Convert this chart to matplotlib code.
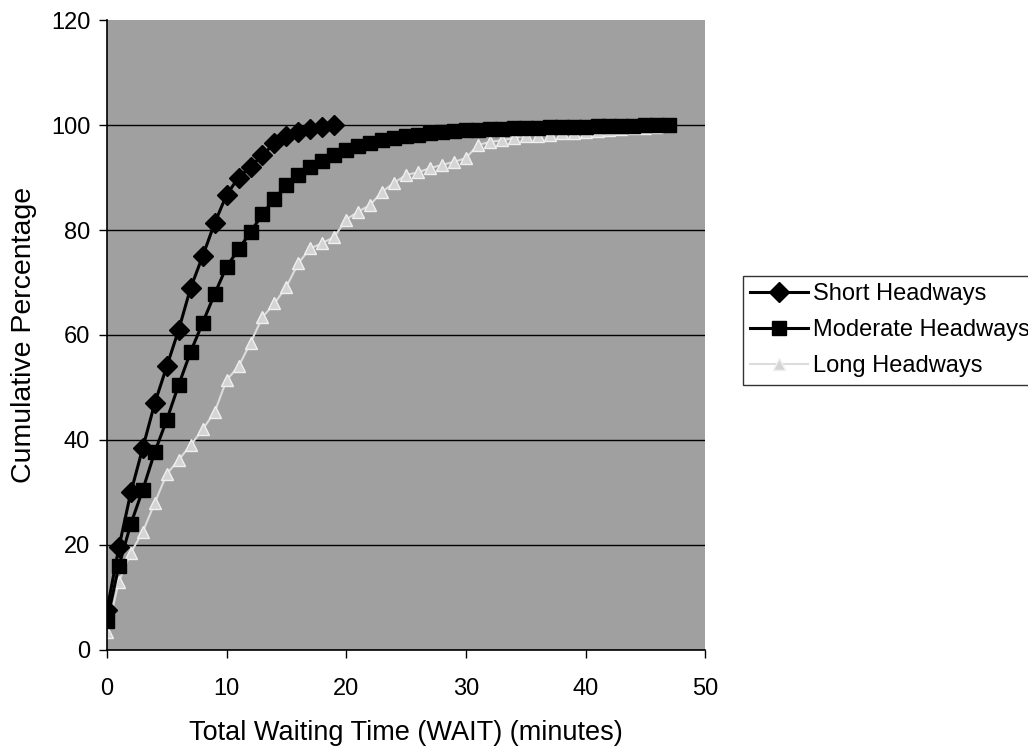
import matplotlib.pyplot as plt
import numpy as np

plt.rcParams['font.family'] = ['Liberation Sans', 'DejaVu Sans']

# Cumulative percentage by waiting time (minutes)
short_x = np.arange(0, 20)
short_y = [7.5, 19.5, 30, 38.5, 47, 54, 61, 69, 75, 81.3, 86.7, 90, 92, 94.3, 96.5,
           98, 98.7, 99.3, 99.6, 100]

moderate_x = np.arange(0, 48)
moderate_y = [5.5, 16, 24, 30.5, 37.7, 43.8, 50.5, 56.8, 62.3, 67.8, 73, 76.3, 79.6, 83,
              86, 88.5, 90.5, 92, 93.2, 94.3, 95.2, 96, 96.6, 97.1, 97.5, 97.9, 98.2,
              98.4, 98.6, 98.8, 99, 99.1, 99.2, 99.3, 99.4, 99.5, 99.5, 99.6, 99.6,
              99.7, 99.7, 99.8, 99.8, 99.9, 99.9, 100, 100, 100]

long_x = np.arange(0, 48)
long_y = [3.3, 13, 18.5, 22.5, 28, 33.5, 36.2, 39, 42, 45.3, 51.4, 54, 58.5, 63.4, 66,
          69.2, 73.7, 76.5, 77.5, 78.7, 82, 83.5, 84.8, 87.3, 89, 90.5, 91, 91.8, 92.4,
          93, 93.7, 96.2, 96.8, 97.1, 97.5, 98, 98, 98.2, 98.4, 98.5, 98.6, 98.8, 99,
          99.2, 99.4, 99.5, 99.7, 100]

fig = plt.figure(figsize=(10.28, 7.46), dpi=100)
ax = fig.add_axes([0.104, 0.129, 0.582, 0.844])
ax.set_facecolor('#a0a0a0')

ax.plot(short_x, short_y, color='black', lw=2.2, marker='D', ms=10,
        label='Short Headways', zorder=4)
ax.plot(moderate_x, moderate_y, color='black', lw=2.2, marker='s', ms=10,
        label='Moderate Headways', zorder=3)
ax.plot(long_x, long_y, color='#dcdcdc', lw=1.5, marker='^', ms=8,
        mec='#efefef', mfc='#d4d4d4', label='Long Headways', zorder=2)

ax.set_xlim(0, 50)
ax.set_ylim(0, 120)
ax.set_xticks(range(0, 51, 10))
ax.set_yticks(range(0, 121, 20))
ax.yaxis.grid(True, color='black', lw=1)
ax.yaxis.get_gridlines()[-1].set_visible(False)
ax.set_axisbelow(True)
for s in ['top', 'right']:
    ax.spines[s].set_visible(False)
ax.spines['left'].set_linewidth(1.2)
ax.spines['bottom'].set_linewidth(1.2)
ax.tick_params(labelsize=17, length=6, width=1)
ax.tick_params(axis='y', pad=6)
ax.tick_params(axis='x', pad=14)

ax.set_xlabel('Total Waiting Time (WAIT) (minutes)', fontsize=19.5, labelpad=15)
ax.set_ylabel('Cumulative Percentage', fontsize=20.5, labelpad=10)

leg = fig.legend(loc='upper left', bbox_to_anchor=(0.723, 0.630), fontsize=17,
                 frameon=True, fancybox=False, edgecolor='black',
                 handlelength=2.45, borderpad=0.3, labelspacing=0.6,
                 handletextpad=0.2, borderaxespad=0)
leg.get_frame().set_linewidth(1)

fig.savefig('out.png', dpi=100)
